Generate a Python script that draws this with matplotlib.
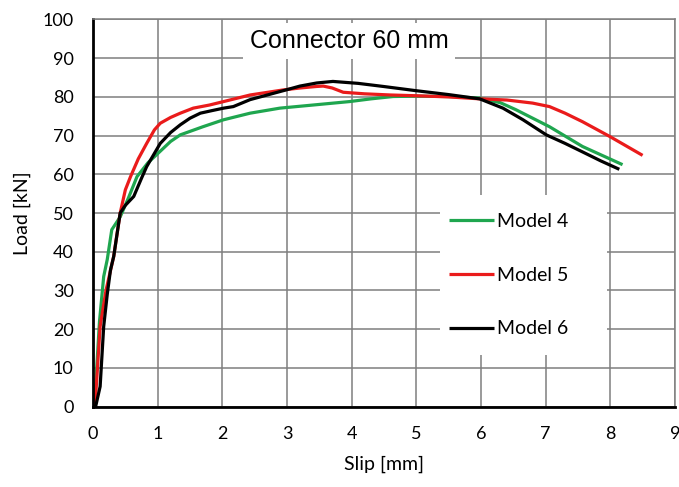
import matplotlib.pyplot as plt
from matplotlib.patches import Rectangle

plt.rcParams.update({
    "font.family": ["Lato", "DejaVu Sans"],
    "font.size": 13,
})

# Model 4 (green)
slip_m4 = [0, 0.04, 0.1, 0.165, 0.22, 0.29, 0.42, 0.55, 0.68, 0.85, 1.01, 1.2, 1.35, 1.7,
           2.02, 2.43, 2.89, 3.4, 3.97, 4.3, 4.64, 5.0, 5.5, 5.98, 6.3, 6.54, 7.06, 7.57, 8.19]
load_m4 = [0, 5.2, 22, 33.6, 38, 45.7, 49, 54, 59.4, 63, 65.5, 68.5, 70.2, 72.3,
           74.1, 75.8, 77.1, 77.9, 78.8, 79.5, 80.1, 80.2, 80.1, 79.7, 78.5, 76.7, 72.3, 67.2, 62.5]

# Model 5 (red)
slip_m5 = [0, 0.04, 0.11, 0.2, 0.32, 0.42, 0.5, 0.58, 0.7, 0.83, 0.95, 1.04, 1.2, 1.35,
           1.55, 1.8, 2.02, 2.43, 2.94, 3.2, 3.46, 3.56, 3.7, 3.87, 4.2, 4.6, 5.0, 5.5, 5.98,
           6.4, 6.8, 7.06, 7.3, 7.57, 7.99, 8.5]
load_m5 = [0, 2.6, 20.7, 30, 38.8, 50, 56, 59.4, 64, 68, 71.5, 73.2, 74.7, 75.8,
           77.1, 77.9, 78.8, 80.5, 81.8, 82.3, 82.7, 82.8, 82.3, 81.2, 80.8, 80.5, 80.3, 80.0, 79.5,
           79.2, 78.4, 77.5, 75.8, 73.6, 69.8, 64.9]

# Model 6 (black)
slip_m6 = [0, 0.04, 0.11, 0.165, 0.22, 0.27, 0.32, 0.42, 0.5, 0.63, 0.75, 0.83, 1.04, 1.2,
           1.35, 1.5, 1.66, 1.85, 2.02, 2.17, 2.43, 2.94, 3.2, 3.46, 3.71, 4.1, 4.49, 5.0, 5.5,
           5.98, 6.34, 6.65, 7.01, 7.3, 7.57, 7.85, 8.14]
load_m6 = [0, 0, 5.2, 20.7, 29, 35.3, 38.8, 50, 52, 54.3, 59, 62, 68, 70.8,
           72.8, 74.5, 75.8, 76.5, 77.1, 77.5, 79.3, 81.6, 82.8, 83.6, 84.0, 83.5, 82.7, 81.6, 80.6,
           79.5, 77.1, 74.1, 70.2, 68.0, 65.8, 63.5, 61.3]

series = [("Model 4", slip_m4, load_m4, "#1fa64f"),
          ("Model 5", slip_m5, load_m5, "#ea1b1b"),
          ("Model 6", slip_m6, load_m6, "#000000")]

fig = plt.figure(figsize=(6.79, 4.87), dpi=100)
ax = fig.add_axes([0.137, 0.165, 0.857, 0.795])

for label, x, y, c in series:
    ax.plot(x, y, color=c, linewidth=2.3, label=label, solid_capstyle="butt")

ax.set_xlim(0, 9)
ax.set_ylim(0, 100)
ax.set_xticks(range(0, 10))
ax.set_yticks(range(0, 101, 10))
ax.grid(True, color="#7f7f7f", linewidth=1.1)
ax.set_axisbelow(True)
ax.tick_params(length=0, pad=14, labelsize=13)

for side in ("top", "right"):
    ax.spines[side].set_color("#7f7f7f")
    ax.spines[side].set_linewidth(1.1)
for side in ("left", "bottom"):
    ax.spines[side].set_color("black")
    ax.spines[side].set_linewidth(2)

ax.set_xlabel("Slip [mm]", fontsize=14, labelpad=10)
ax.set_ylabel("Load [kN]", fontsize=14, labelpad=8)

ax.text(3.96, 94.4, "Connector 60 mm", ha="center", va="center",
        fontsize=18, family=["Liberation Sans", "DejaVu Sans"],
        bbox=dict(facecolor="white", edgecolor="none", pad=4.5), zorder=3)

# white legend area hiding the grid
ax.add_patch(Rectangle((0.596, 0.134), 0.288, 0.413, transform=ax.transAxes,
                       facecolor="white", edgecolor="none", zorder=1.5))

ax.legend(loc="center", bbox_to_anchor=(0.714, 0.34), frameon=False,
          fontsize=14, labelspacing=1.9, handlelength=2.3, handletextpad=0.15)

fig.savefig("out.png", dpi=100)
